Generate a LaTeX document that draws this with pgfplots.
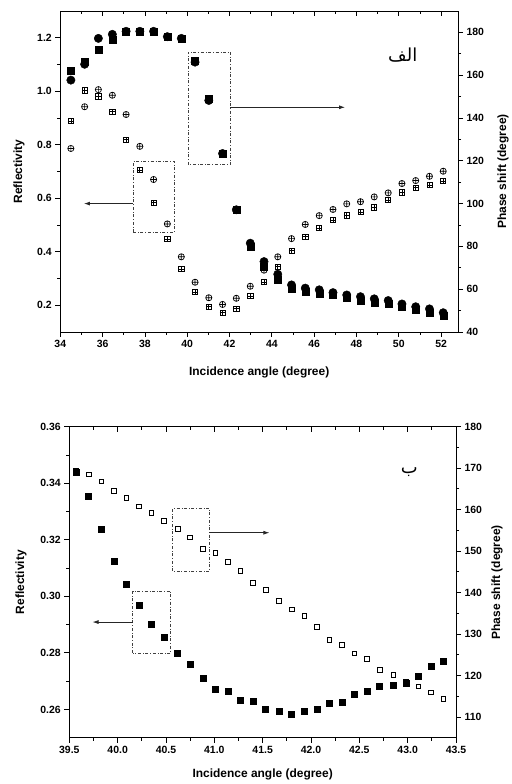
\documentclass[border=0pt]{standalone}
\usepackage{fontspec}
\setmainfont{Liberation Sans}
\newfontfamily\arabicfont[Script=Arabic]{DejaVu Sans}
\TeXXeTstate=1
\usepackage{pgfplots}
\pgfplotsset{compat=1.18}
\usetikzlibrary{arrows.meta}

\pgfdeclareplotmark{boxplus}{%
  \pgfpathrectangle{\pgfqpoint{-\pgfplotmarksize}{-\pgfplotmarksize}}{\pgfqpoint{2\pgfplotmarksize}{2\pgfplotmarksize}}%
  \pgfpathmoveto{\pgfqpoint{-\pgfplotmarksize}{0pt}}\pgfpathlineto{\pgfqpoint{\pgfplotmarksize}{0pt}}%
  \pgfpathmoveto{\pgfqpoint{0pt}{-\pgfplotmarksize}}\pgfpathlineto{\pgfqpoint{0pt}{\pgfplotmarksize}}%
  \pgfusepathqstroke}

\pgfplotsset{
  common/.style={
    scale only axis, anchor=south west,
    tick align=outside,
    major tick length=5bp, minor tick length=3bp,
    /pgf/number format/assume math mode=true,
    tick label style={font=\fontsize{10.5}{12}\selectfont\bfseries},
    label style={font=\fontsize{12}{14}\selectfont\bfseries},
    axis line style={line width=0.8bp},
    tick style={line width=0.8bp, black},
  },
}
\tikzset{
  boxst/.style={black!75, dash dot, line width=0.7bp},
  arrst/.style={black!85, line width=0.8bp, -{Latex[length=6bp,width=4bp]}},
}

\begin{document}
\begin{tikzpicture}[x=1bp,y=1bp]
\useasboundingbox (0,0) rectangle (512,784);

% ================= TOP PANEL =================
\begin{axis}[common, at={(60.3bp,452bp)}, width=397.7bp, height=321bp,
  xmin=34, xmax=52.8, ymin=0.1, ymax=1.3,
  xtick={34,36,38,40,42,44,46,48,50,52}, minor x tick num=1,
  ytick={0.2,0.4,0.6,0.8,1.0,1.2}, minor y tick num=1,
  xtick pos=bottom, ytick pos=left,
  yticklabel style={/pgf/number format/fixed, /pgf/number format/fixed zerofill, /pgf/number format/precision=1},
  xlabel={Incidence angle (degree)}, ylabel={Reflectivity},
  xlabel style={at={(axis description cs:0.5,-0.125)}, anchor=center},
  ylabel style={at={(axis description cs:-0.104,0.5)}, anchor=center},
  clip=false]
\addplot[only marks, mark=boxplus, mark size=2.6bp, mark options={black, line width=0.7bp}] coordinates {
(34.50,0.888)(35.15,1.003)(35.80,0.981)(36.46,0.923)(37.11,0.819)(37.76,0.705)(38.41,0.583)
(39.06,0.448)(39.72,0.336)(40.37,0.249)(41.02,0.194)(41.67,0.172)(42.32,0.187)(42.98,0.234)
(43.63,0.287)(44.28,0.344)(44.93,0.404)(45.58,0.456)(46.24,0.489)(46.89,0.518)(47.54,0.536)
(48.19,0.549)(48.84,0.566)(49.50,0.593)(50.15,0.622)(50.80,0.639)(51.45,0.649)(52.10,0.664)};
\addplot[only marks, mark=oplus, mark size=3.1bp, mark options={black, line width=0.7bp}] coordinates {
(34.50,0.786)(35.15,0.942)(35.80,1.006)(36.46,0.985)(37.11,0.913)(37.76,0.794)(38.41,0.670)
(39.06,0.504)(39.72,0.381)(40.37,0.286)(41.02,0.228)(41.67,0.203)(42.32,0.226)(42.98,0.271)
(43.63,0.331)(44.28,0.381)(44.93,0.449)(45.58,0.502)(46.24,0.535)(46.89,0.558)(47.54,0.579)
(48.19,0.587)(48.84,0.605)(49.50,0.620)(50.15,0.655)(50.80,0.666)(51.45,0.682)(52.10,0.701)};
\draw[boxst] (37.43,0.474) rectangle (39.39,0.738);
\draw[arrst] (37.43,0.580) -- (35.12,0.580);
\draw[boxst] (40.04,0.726) rectangle (42.04,1.147);
\draw[arrst] (42.04,0.940) -- (47.46,0.940);
\node[font=\fontsize{18}{20}\selectfont] at (axis description cs:0.861,0.863) {\arabicfont\beginR الف\endR};
\end{axis}

\begin{axis}[common, at={(60.3bp,452bp)}, width=397.7bp, height=321bp,
  xmin=34, xmax=52.8, ymin=40, ymax=190,
  axis y line*=right, axis x line=none,
  ytick={40,60,80,100,120,140,160,180}, minor y tick num=1,
  ylabel={Phase shift (degree)},
  ylabel style={at={(axis description cs:1.113,0.5)}, anchor=center}]
\addplot[only marks, mark=square*, mark size=3.5bp, mark options={black}] coordinates {
(34.50,162.2)(35.15,166.3)(35.80,172.1)(36.46,176.8)(37.11,180.5)(37.76,180.5)(38.41,180.5)
(39.06,178.0)(39.72,177.0)(40.37,166.6)(41.02,149.1)(41.67,123.4)(42.32,97.1)(42.98,80.0)
(43.63,70.3)(44.28,64.4)(44.93,60.0)(45.58,58.9)(46.24,58.1)(46.89,57.2)(47.54,56.1)
(48.19,54.7)(48.84,53.9)(49.50,53.1)(50.15,51.8)(50.80,50.3)(51.45,49.2)(52.10,47.5)};
\addplot[only marks, mark=*, mark size=4.2bp, mark options={black}] coordinates {
(34.50,157.7)(35.15,165.1)(35.80,177.2)(36.46,179.1)(37.11,180.5)(37.76,180.5)(38.41,180.5)
(39.06,178.0)(39.72,177.2)(40.37,166.1)(41.02,148.2)(41.67,123.4)(42.32,97.1)(42.98,81.5)
(43.63,72.9)(44.28,67.0)(44.93,62.0)(45.58,60.5)(46.24,59.7)(46.89,58.4)(47.54,57.3)
(48.19,56.5)(48.84,55.5)(49.50,54.7)(50.15,53.1)(50.80,51.8)(51.45,50.8)(52.10,49.0)};
\end{axis}

\begin{axis}[common, at={(60.3bp,452bp)}, width=397.7bp, height=321bp,
  xmin=34, xmax=52.8, ymin=0, ymax=1,
  axis x line*=top, axis y line=none, tick align=inside,
  xtick={34,36,38,40,42,44,46,48,50,52}, minor x tick num=1, xticklabels={}]
\end{axis}

% ================= BOTTOM PANEL =================
\begin{axis}[common, at={(69.3bp,46.3bp)}, width=386.7bp, height=311bp,
  xmin=39.5, xmax=43.5, ymin=0.25, ymax=0.36,
  xtick={39.5,40,40.5,41,41.5,42,42.5,43,43.5}, minor x tick num=1,
  ytick={0.26,0.28,0.30,0.32,0.34,0.36}, minor y tick num=1,
  xtick pos=bottom, ytick pos=left,
  xticklabel style={/pgf/number format/fixed, /pgf/number format/fixed zerofill, /pgf/number format/precision=1},
  yticklabel style={/pgf/number format/fixed, /pgf/number format/fixed zerofill, /pgf/number format/precision=2},
  xlabel={Incidence angle (degree)}, ylabel={Reflectivity},
  xlabel style={at={(axis description cs:0.5,-0.119)}, anchor=center},
  ylabel style={at={(axis description cs:-0.125,0.5)}, anchor=center},
  clip=false]
\addplot[only marks, mark=square*, mark size=3bp, mark options={black}] coordinates {
(39.57,0.3440)(39.70,0.3355)(39.83,0.3238)(39.96,0.3124)(40.09,0.3043)(40.22,0.2969)
(40.35,0.2901)(40.48,0.2857)(40.62,0.2800)(40.75,0.2760)(40.88,0.2712)(41.01,0.2672)
(41.14,0.2665)(41.27,0.2633)(41.40,0.2630)(41.53,0.2600)(41.67,0.2592)(41.80,0.2584)
(41.93,0.2595)(42.06,0.2600)(42.19,0.2621)(42.32,0.2625)(42.45,0.2654)(42.58,0.2665)
(42.71,0.2682)(42.85,0.2686)(42.98,0.2694)(43.11,0.2719)(43.24,0.2754)(43.37,0.2772)};
\draw[boxst] (40.156,0.2800) rectangle (40.549,0.3019);
\draw[arrst] (40.156,0.2909) -- (39.74,0.2909);
\draw[boxst] (40.57,0.3090) rectangle (40.95,0.3311);
\draw[arrst] (40.95,0.3225) -- (41.57,0.3225);
\node[font=\fontsize{18}{20}\selectfont] at (axis description cs:0.879,0.855) {\arabicfont\beginR ب\endR};
\end{axis}

\begin{axis}[common, at={(69.3bp,46.3bp)}, width=386.7bp, height=311bp,
  xmin=39.5, xmax=43.5, ymin=105, ymax=180,
  axis y line*=right, axis x line=none,
  ytick={110,120,130,140,150,160,170,180}, minor y tick num=1,
  ylabel={Phase shift (degree)},
  ylabel style={at={(axis description cs:1.106,0.5)}, anchor=center}]
\addplot[only marks, mark=square, mark size=2.3bp, mark options={black, line width=0.7bp}] coordinates {
(39.57,169.4)(39.70,168.5)(39.83,166.8)(39.96,164.6)(40.09,162.8)(40.22,160.8)
(40.35,159.2)(40.48,157.3)(40.62,155.4)(40.75,153.3)(40.88,150.5)(41.01,149.6)
(41.14,147.4)(41.27,145.3)(41.40,142.4)(41.53,140.6)(41.67,138.0)(41.80,136.0)
(41.93,134.4)(42.06,131.8)(42.19,128.6)(42.32,127.4)(42.45,125.3)(42.58,124.0)
(42.71,121.4)(42.85,120.2)(42.98,118.6)(43.11,117.4)(43.24,115.9)(43.37,114.4)};
\end{axis}

\begin{axis}[common, at={(69.3bp,46.3bp)}, width=386.7bp, height=311bp,
  xmin=39.5, xmax=43.5, ymin=0, ymax=1,
  axis x line*=top, axis y line=none, tick align=inside,
  xtick={39.5,40,40.5,41,41.5,42,42.5,43,43.5}, minor x tick num=1, xticklabels={}]
\end{axis}
\end{tikzpicture}
\end{document}
